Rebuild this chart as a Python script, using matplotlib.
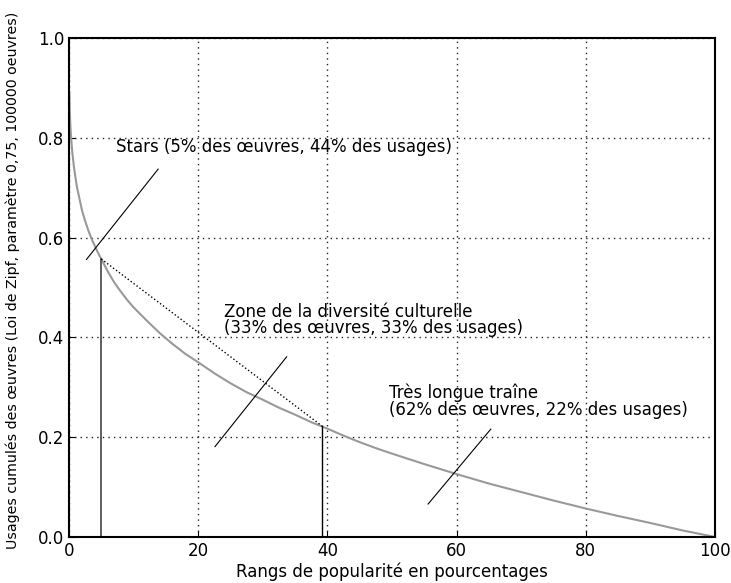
import numpy as np
import matplotlib.pyplot as plt

# courbe : rang (%) -> usages cumulés restants
rangs = [0.05, 0.1, 0.2, 0.3, 0.5, 0.75, 1, 1.25, 1.5, 2, 2.5, 3, 3.5, 4, 4.5, 5,
         6, 7, 8, 9, 10, 12, 14, 16, 18, 20, 22.5, 25, 27.5, 30, 32.5, 35, 37.5,
         40, 42.5, 45, 47.5, 50, 55, 60, 65, 70, 75, 80, 85, 90, 95, 100]
usages = [0.89, 0.86, 0.826, 0.805, 0.772, 0.743, 0.72, 0.70, 0.685, 0.655, 0.633,
          0.614, 0.597, 0.583, 0.569, 0.557, 0.532, 0.51, 0.492, 0.475, 0.46,
          0.434, 0.409, 0.387, 0.367, 0.35, 0.328, 0.308, 0.29, 0.275, 0.259,
          0.245, 0.23, 0.217, 0.203, 0.19, 0.178, 0.167, 0.146, 0.126, 0.107,
          0.09, 0.073, 0.057, 0.042, 0.028, 0.013, 0.0]

# bornes des zones
x_stars, y_stars = 5.0, 0.557
x_zone, y_zone = 39.2, 0.222

# annotations : texte, position, trait
labels = ["Stars (5% des œuvres, 44% des usages)",
          "Zone de la diversité culturelle\n(33% des œuvres, 33% des usages)",
          "Très longue traîne\n(62% des œuvres, 22% des usages)"]
label_pos = [(7.3, 0.763), (24.0, 0.40), (49.5, 0.237)]
traits = [((2.7, 13.8), (0.556, 0.737)),
          ((22.6, 33.7), (0.181, 0.361)),
          ((55.6, 65.3), (0.066, 0.216))]

fig = plt.figure(figsize=(7.31, 5.83), dpi=100)
ax = fig.add_axes([0.0944, 0.079, 0.8836, 0.856])

ax.plot(rangs, usages, color="#999999", lw=1.5)
ax.plot([x_stars, x_stars], [0, y_stars], color="#444444", lw=1.2)
ax.plot([x_zone, x_zone], [0, y_zone], color="black", lw=1.0)
ax.plot([x_stars, x_zone], [y_stars, y_zone], color="black", lw=1.0, ls=":")

for txt, (tx, ty), (lx, ly) in zip(labels, label_pos, traits):
    ax.plot(lx, ly, color="black", lw=0.8)
    ax.text(tx, ty, txt, fontsize=12, va="bottom", linespacing=0.9)

ax.set_xlim(0, 100)
ax.set_ylim(0, 1)
ax.set_xticks([0, 20, 40, 60, 80, 100])
ax.set_yticks([0.0, 0.2, 0.4, 0.6, 0.8, 1.0])
ax.grid(True, color="#222222", ls=(0, (1, 3)), lw=1.0)
ax.tick_params(direction="in", labelsize=12, length=4)
for s in ax.spines.values():
    s.set_linewidth(1.5)

ax.set_xlabel("Rangs de popularité en pourcentages", fontsize=12, labelpad=2)
ax.set_ylabel("Usages cumulés des œuvres (Loi de Zipf, paramètre 0,75, 100000 oeuvres)",
              fontsize=10.2)
ax.yaxis.set_label_coords(-0.076, 0.515)

fig.savefig("out.png")
